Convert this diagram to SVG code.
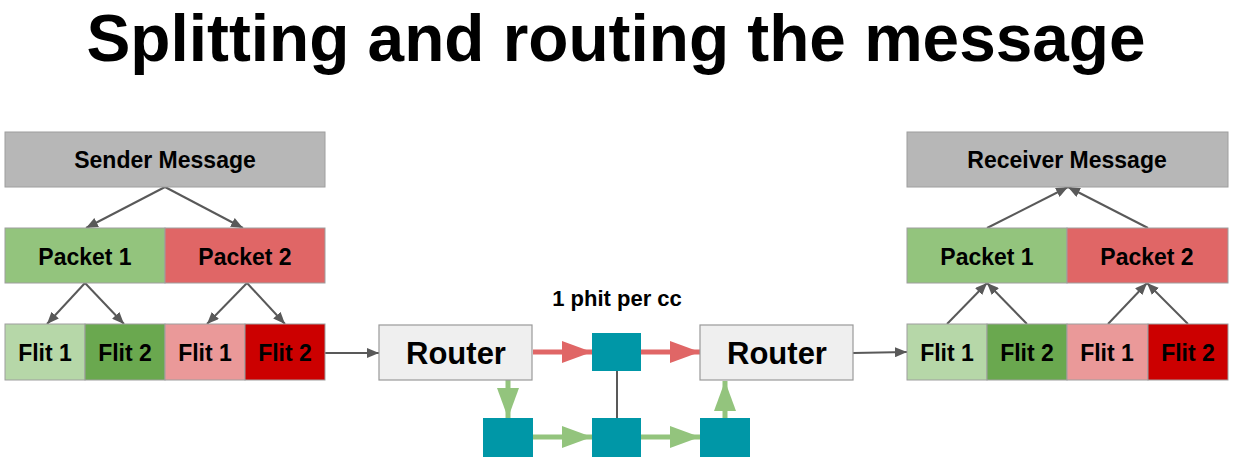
<svg xmlns="http://www.w3.org/2000/svg" width="1240" height="467" viewBox="0 0 1240 467">
<defs>
<style>
text{font-family:"Liberation Sans",Arial,sans-serif;font-weight:bold;fill:#000;text-anchor:middle}
.box{stroke:#9e9e9e;stroke-width:1}
.lbl{font-size:23px}
.rt{font-size:31px}
.msg{fill:#b7b7b7}
.p1{fill:#93c47d}.p2{fill:#e06666}
.f1g{fill:#b6d7a8}.f2g{fill:#6aa84f}.f1r{fill:#ea9999}.f2r{fill:#cc0000}
.router{fill:#efefef;stroke:#999;stroke-width:1.2}
.sq{fill:#0097a7}
.g{stroke:#595959;stroke-width:2;fill:none}
.ga{stroke:#595959;stroke-width:2;fill:none;marker-end:url(#ah)}
.ra{stroke:#e06666;stroke-width:5;fill:none;marker-end:url(#rh)}
.gr{stroke:#93c47d;stroke-width:5;fill:none;marker-end:url(#gh)}
</style>
<marker id="ah" markerUnits="userSpaceOnUse" markerWidth="13" markerHeight="10" refX="12" refY="5" orient="auto"><path d="M0,0 L12,5 L0,10 z" fill="#595959"/></marker>
<marker id="rh" markerUnits="userSpaceOnUse" markerWidth="30" markerHeight="22" refX="30" refY="11" orient="auto"><path d="M0,0 L30,11 L0,22 z" fill="#e06666"/></marker>
<marker id="gh" markerUnits="userSpaceOnUse" markerWidth="30" markerHeight="22" refX="30" refY="11" orient="auto"><path d="M0,0 L30,11 L0,22 z" fill="#93c47d"/></marker>
</defs>
<rect width="1240" height="467" fill="#fff"/>
<text x="616" y="61" font-size="67" textLength="1059" lengthAdjust="spacingAndGlyphs">Splitting and routing the message</text>

<g id="connectors">
<path class="ga" d="M165,187 L86,228"/>
<path class="ga" d="M165,187 L243,228"/>
<path class="ga" d="M85,283 L47,324"/>
<path class="ga" d="M85,283 L124,324"/>
<path class="ga" d="M247,283 L207,324"/>
<path class="ga" d="M247,283 L285,324"/>
<path class="ga" d="M325,353 L379,353"/>
<path class="ga" d="M853,353 L907,352"/>
<path class="ga" d="M947,324 L987,283"/>
<path class="ga" d="M1027,324 L987,283"/>
<path class="ga" d="M1108,324 L1147,283"/>
<path class="ga" d="M1188,324 L1147,283"/>
<path class="ga" d="M987,228 L1068,187"/>
<path class="ga" d="M1148,228 L1068,187"/>
<path class="ra" d="M533,352 L592,352"/>
<path class="ra" d="M641,352 L700,352"/>
<path class="gr" d="M508,380 L508,418"/>
<path class="gr" d="M533,437 L592,437"/>
<path class="gr" d="M641,437 L700,437"/>
<path class="gr" d="M725,418 L725,381"/>
<path class="g" d="M617,371 L617,418"/>
</g>

<g id="sender-message"><rect class="box msg" x="5" y="132" width="320" height="55"/><text class="lbl" x="165" y="168">Sender Message</text></g>
<g id="s-packet1"><rect class="box p1" x="5" y="228" width="160" height="55"/><text class="lbl" x="85" y="265">Packet 1</text></g>
<g id="s-packet2"><rect class="box p2" x="165" y="228" width="160" height="55"/><text class="lbl" x="245" y="265">Packet 2</text></g>
<g id="s-p1-flit1"><rect class="box f1g" x="5" y="324" width="80" height="56"/><text class="lbl" x="45" y="361">Flit 1</text></g>
<g id="s-p1-flit2"><rect class="box f2g" x="85" y="324" width="80" height="56"/><text class="lbl" x="125" y="361">Flit 2</text></g>
<g id="s-p2-flit1"><rect class="box f1r" x="165" y="324" width="80" height="56"/><text class="lbl" x="205" y="361">Flit 1</text></g>
<g id="s-p2-flit2"><rect class="box f2r" x="245" y="324" width="80" height="56"/><text class="lbl" x="285" y="361">Flit 2</text></g>

<g id="router1"><rect class="router" x="379" y="325" width="153" height="55"/><text class="rt" x="456" y="364">Router</text></g>
<g id="router2"><rect class="router" x="700" y="325" width="153" height="55"/><text class="rt" x="777" y="364">Router</text></g>
<g id="phit-label"><text x="617" y="306" font-size="22">1 phit per cc</text></g>
<g id="node-top"><rect class="sq" x="592" y="333" width="49" height="38"/></g>
<g id="node-bl"><rect class="sq" x="483" y="418" width="50" height="39"/></g>
<g id="node-bm"><rect class="sq" x="592" y="418" width="49" height="39"/></g>
<g id="node-br"><rect class="sq" x="700" y="418" width="50" height="39"/></g>

<g id="receiver-message"><rect class="box msg" x="907" y="132" width="321" height="55"/><text class="lbl" x="1067" y="168">Receiver Message</text></g>
<g id="r-packet1"><rect class="box p1" x="907" y="228" width="160" height="55"/><text class="lbl" x="987" y="265">Packet 1</text></g>
<g id="r-packet2"><rect class="box p2" x="1067" y="228" width="161" height="55"/><text class="lbl" x="1147" y="265">Packet 2</text></g>
<g id="r-p1-flit1"><rect class="box f1g" x="907" y="324" width="80" height="56"/><text class="lbl" x="947" y="361">Flit 1</text></g>
<g id="r-p1-flit2"><rect class="box f2g" x="987" y="324" width="80" height="56"/><text class="lbl" x="1027" y="361">Flit 2</text></g>
<g id="r-p2-flit1"><rect class="box f1r" x="1067" y="324" width="81" height="56"/><text class="lbl" x="1107" y="361">Flit 1</text></g>
<g id="r-p2-flit2"><rect class="box f2r" x="1148" y="324" width="80" height="56"/><text class="lbl" x="1188" y="361">Flit 2</text></g>
</svg>
